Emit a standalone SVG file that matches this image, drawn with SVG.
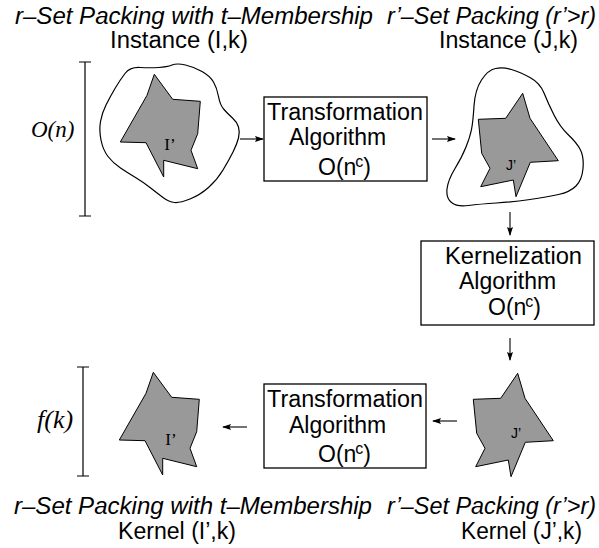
<svg xmlns="http://www.w3.org/2000/svg" width="599" height="548" viewBox="0 0 599 548">
  <defs>
    <style>
      .title { font-family: "Liberation Sans", Arial, sans-serif; font-size: 23px; font-style: italic; fill: #000; }
      .sub { font-family: "Liberation Sans", Arial, sans-serif; font-size: 23px; fill: #000; }
      .box { fill: #fff; stroke: #000; stroke-width: 1.3; }
      .btxt { font-family: "Liberation Sans", Arial, sans-serif; font-size: 23px; fill: #000; }
      .sup { font-size: 16px; }
      .blob { fill: none; stroke: #000; stroke-width: 1.2; }
      .star { fill: #999; stroke: #000; stroke-width: 1; stroke-linejoin: miter; }
      .lblI { font-family: "Liberation Serif", "Times New Roman", serif; font-size: 17px; fill: #000; }
      .lblJ { font-family: "Liberation Sans", Arial, sans-serif; font-size: 14px; fill: #000; }
      .size { font-family: "Liberation Serif", "Times New Roman", serif; font-style: italic; fill: #000; }
      .bar { fill: none; stroke: #000; stroke-width: 1.2; }
      .conn { fill: none; stroke: #000; stroke-width: 1.1; }
    </style>
    <marker id="head" markerWidth="9" markerHeight="6" refX="8" refY="3" orient="auto" markerUnits="userSpaceOnUse">
      <path d="M0,0 L9,3 L0,6 L1.5,3 Z" fill="#000"/>
    </marker>
    <!-- gray star-shaped subset, drawn at its lower-left position -->
    <polygon id="starI" points="153.3,372.3 171.7,397.3 199.3,399.3 196.7,431.7 190,448.3 196.7,466.7 162.7,458.3 162.7,475 145,440.7 119.3,440 146,393.3"/>
    <polygon id="starJ" points="473.3,399.3 500.7,398.3 517.7,373.3 525,398.3 553.3,440.7 525.3,442.3 511,476.7 508.3,460 475.7,466.7 485,448.3 476.7,433.3"/>
  </defs>

  <!-- headings -->
  <g id="heading-top-left">
    <text class="title" x="15" y="24" textLength="358" lengthAdjust="spacingAndGlyphs">r–Set Packing with t–Membership</text>
    <text class="sub" x="110" y="48" textLength="138" lengthAdjust="spacingAndGlyphs">Instance (I,k)</text>
  </g>
  <g id="heading-top-right">
    <text class="title" x="387" y="24" textLength="209" lengthAdjust="spacingAndGlyphs">r’–Set Packing (r’&gt;r)</text>
    <text class="sub" x="439" y="48" textLength="139" lengthAdjust="spacingAndGlyphs">Instance (J,k)</text>
  </g>
  <g id="heading-bottom-left">
    <text class="title" x="14" y="514" textLength="358" lengthAdjust="spacingAndGlyphs">r–Set Packing with t–Membership</text>
    <text class="sub" x="118" y="539" textLength="118" lengthAdjust="spacingAndGlyphs">Kernel (I’,k)</text>
  </g>
  <g id="heading-bottom-right">
    <text class="title" x="387" y="514" textLength="209" lengthAdjust="spacingAndGlyphs">r’–Set Packing (r’&gt;r)</text>
    <text class="sub" x="461" y="539" textLength="121" lengthAdjust="spacingAndGlyphs">Kernel (J’,k)</text>
  </g>

  <!-- size brackets -->
  <g id="size-instance">
    <path class="bar" d="M79,62 H91 M85,62 V216 M79,216 H91"/>
    <text class="size" x="31" y="137" font-size="23">O(n)</text>
  </g>
  <g id="size-kernel">
    <path class="bar" d="M77,367 H89 M83,367 V476 M77,476 H89"/>
    <text class="size" x="37" y="428" font-size="26">f(k)</text>
  </g>

  <!-- instance (I,k) -->
  <g id="instance-I">
    <path class="blob" d="M125,73.5 Q130,67 140,67.5 Q150,68 158.5,67.5 Q167,67 172,65 Q177,63 185.5,65 Q194,67 202,71.5 Q210,76 213.5,82 Q217,88 218.5,96.5 Q220,105 224,109.5 Q228,114 232.5,118 Q237,122 238.5,127 Q240,132 238.5,138 Q237,144 233,152 Q229,160 223,170 Q217,180 208.5,187.5 Q200,195 190,199 Q180,203 174.5,202.5 Q169,202 163,197.5 Q157,193 150,187.5 Q143,182 135.5,177.5 Q128,173 120.5,168 Q113,163 108,156.5 Q103,150 101,140 Q99,130 100.5,121.5 Q102,113 106,105 Q110,97 115,88.5 Q120,80 125,73.5 Z"/>
    <use href="#starI" class="star" transform="translate(1,-298)"/>
    <text class="lblI" x="170" y="150" text-anchor="middle">I’</text>
  </g>

  <!-- instance (J,k) -->
  <g id="instance-J">
    <path class="blob" d="M474,106 Q475,90 481.5,80 Q488,70 495.5,68.5 Q503,67 511.5,69.5 Q520,72 530,77.5 Q540,83 544,93 Q548,103 554,115 Q560,127 568.5,135 Q577,143 580.5,150 Q584,157 583,168.5 Q582,180 576,186 Q570,192 558.5,194.5 Q547,197 530,199.5 Q513,202 496.5,203 Q480,204 468.5,205.5 Q457,207 451.5,202.5 Q446,198 447,189 Q448,180 455,168.5 Q462,157 466,147 Q470,137 471.5,129.5 Q473,122 474,106 Z"/>
    <use href="#starJ" class="star" transform="translate(5,-280)"/>
    <text class="lblJ" x="511" y="170" text-anchor="middle">J’</text>
  </g>

  <!-- transformation algorithm (instance) -->
  <g id="transform-top">
    <rect class="box" x="264" y="97" width="163" height="84"/>
    <text class="btxt" x="267" y="120" textLength="156" lengthAdjust="spacingAndGlyphs">Transformation</text>
    <text class="btxt" x="289" y="145">Algorithm</text>
    <text class="btxt" x="318" y="175">O(n<tspan class="sup" dx="-1" dy="-8">c</tspan><tspan dy="8">)</tspan></text>
  </g>

  <!-- kernelization algorithm -->
  <g id="kernelization">
    <rect class="box" x="421" y="241" width="173" height="84"/>
    <text class="btxt" x="445" y="264" textLength="137" lengthAdjust="spacingAndGlyphs">Kernelization</text>
    <text class="btxt" x="459" y="289">Algorithm</text>
    <text class="btxt" x="488" y="315">O(n<tspan class="sup" dx="-1" dy="-8">c</tspan><tspan dy="8">)</tspan></text>
  </g>

  <!-- kernel (J',k) -->
  <g id="kernel-J">
    <use href="#starJ" class="star"/>
    <text class="lblJ" x="516" y="438" text-anchor="middle">J’</text>
  </g>

  <!-- transformation algorithm (kernel) -->
  <g id="transform-bottom">
    <rect class="box" x="264" y="384" width="162" height="84"/>
    <text class="btxt" x="267" y="407" textLength="156" lengthAdjust="spacingAndGlyphs">Transformation</text>
    <text class="btxt" x="289" y="433">Algorithm</text>
    <text class="btxt" x="318" y="462">O(n<tspan class="sup" dx="-1" dy="-8">c</tspan><tspan dy="8">)</tspan></text>
  </g>

  <!-- kernel (I',k) -->
  <g id="kernel-I">
    <use href="#starI" class="star"/>
    <text class="lblI" x="171" y="445" text-anchor="middle">I’</text>
  </g>

  <!-- connectors -->
  <g id="connectors">
    <line class="conn" x1="240" y1="139" x2="263" y2="139" marker-end="url(#head)"/>
    <line class="conn" x1="432" y1="139" x2="455" y2="139" marker-end="url(#head)"/>
    <line class="conn" x1="510" y1="212" x2="510" y2="235" marker-end="url(#head)"/>
    <line class="conn" x1="510" y1="338" x2="510" y2="360" marker-end="url(#head)"/>
    <line class="conn" x1="457" y1="421" x2="433" y2="421" marker-end="url(#head)"/>
    <line class="conn" x1="247" y1="427" x2="223" y2="427" marker-end="url(#head)"/>
  </g>
</svg>
